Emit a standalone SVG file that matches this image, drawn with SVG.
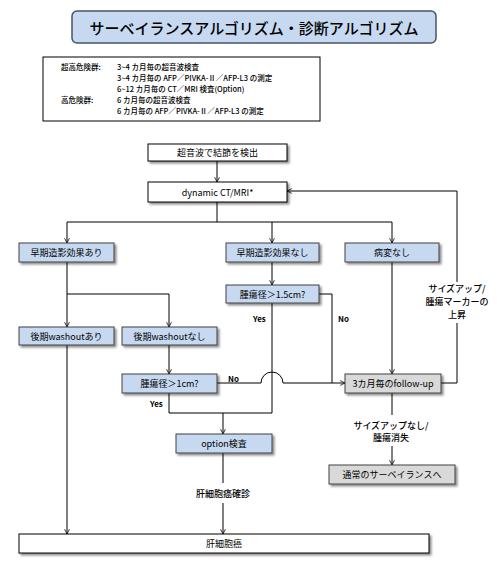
<svg xmlns="http://www.w3.org/2000/svg" width="497" height="567" viewBox="0 0 497 567">
<style>
text{font-family:"Noto Sans CJK JP","Liberation Sans",sans-serif;fill:#000}
.t{font-size:9px;text-anchor:middle;dominant-baseline:central}
.i{font-size:7.5px;dominant-baseline:central;font-weight:500}
.l{font-size:8px;font-weight:bold;dominant-baseline:central}
.lb{font-size:9px;font-weight:500;text-anchor:middle;dominant-baseline:central}
.b{fill:#c6d9f1;stroke:#404040;stroke-width:1}
.w{fill:#fff;stroke:#000;stroke-width:1}
.g{fill:#d9d9d9;stroke:#404040;stroke-width:1}
.c{fill:none;stroke:#000;stroke-width:1}
.a{fill:none;stroke:#000;stroke-width:1;marker-end:url(#ar)}
</style>
<defs>
<filter id="sh" x="-10%" y="-20%" width="130%" height="160%"><feDropShadow dx="2" dy="2" stdDeviation="0.8" flood-color="#000" flood-opacity="0.45"/></filter>
<marker id="ar" viewBox="0 0 10 10" refX="10" refY="5" markerWidth="6" markerHeight="6" orient="auto" markerUnits="userSpaceOnUse"><path d="M2,1 L10,5 L2,9" fill="none" stroke="#000" stroke-width="1.3"/></marker>
</defs>
<g id="title">
<rect x="72" y="11" width="364" height="32" rx="5" fill="#c6d9f1" stroke="#44546a" stroke-width="1.5"/>
<text x="254" y="27" style="font-size:15px;text-anchor:middle;dominant-baseline:central;font-weight:500">サーベイランスアルゴリズム・診断アルゴリズム</text>
</g>
<g id="info">
<rect x="43" y="57" width="277" height="64" fill="#fff" stroke="#000" stroke-width="1"/>
<text class="i" x="61" y="66.5">超高危険群:</text>
<text class="i" x="117" y="66.5">3~4 カ月毎の超音波検査</text>
<text class="i" x="117" y="77.5">3~4 カ月毎の AFP／PIVKA-Ⅱ／AFP-L3 の測定</text>
<text class="i" x="117" y="88.5">6~12 カ月毎の CT／MRI 検査(Option)</text>
<text class="i" x="61" y="99.5">高危険群:</text>
<text class="i" x="117" y="99.5">6 カ月毎の超音波検査</text>
<text class="i" x="117" y="110.5">6 カ月毎の AFP／PIVKA-Ⅱ／AFP-L3 の測定</text>
</g>
<g id="connectors">
<path class="a" d="M217,161 V182"/>
<path class="c" d="M217,202 V222 M67,222 H392"/>
<path class="a" d="M67,222 V243"/>
<path class="a" d="M272,222 V243"/>
<path class="a" d="M392,222 V243"/>
<path class="a" d="M272,262 V285"/>
<path class="c" d="M67,262 V294 H169"/>
<path class="a" d="M67,294 V327"/>
<path class="a" d="M169,294 V327"/>
<path class="a" d="M169,345 V374"/>
<path class="a" d="M67,345 V534"/>
<path class="c" d="M169,393 V413 H272 M272,303 V413"/>
<path class="a" d="M223,413 V434"/>
<path class="c" d="M319,294 H332 V383"/>
<path class="a" d="M217,383 H261 A11,11 0 0 1 283,383 H345"/>
<path class="a" d="M392,262 V374"/>
<path class="c" d="M441,383 H457 V323"/>
<path class="a" d="M457,282 V191 H287"/>
<path class="c" d="M392,393 V415"/>
<path class="a" d="M392,446 V465"/>
<path class="c" d="M223,453 V483"/>
<path class="a" d="M223,503 V534"/>
</g>
<g id="n-detect"><rect class="w" x="148" y="144" width="139" height="17" filter="url(#sh)"/><text class="t" x="217.5" y="152.5">超音波で結節を検出</text></g>
<g id="n-dynamic"><rect class="w" x="148" y="182" width="139" height="20" filter="url(#sh)"/><text class="t" x="217.5" y="192">dynamic CT/MRI*</text></g>
<g id="n-early-yes"><rect class="b" x="19" y="243" width="95" height="19" filter="url(#sh)"/><text class="t" x="66.5" y="252.5">早期造影効果あり</text></g>
<g id="n-early-no"><rect class="b" x="226" y="243" width="93" height="19" filter="url(#sh)"/><text class="t" x="272.5" y="252.5">早期造影効果なし</text></g>
<g id="n-nolesion"><rect class="b" x="345" y="243" width="94" height="19" filter="url(#sh)"/><text class="t" x="392" y="252.5">病変なし</text></g>
<g id="n-15cm"><rect class="b" x="226" y="285" width="93" height="18" filter="url(#sh)"/><text class="t" x="272.5" y="294">腫瘍径＞1.5cm?</text></g>
<g id="n-wash-yes"><rect class="b" x="19" y="327" width="95" height="18" filter="url(#sh)"/><text class="t" x="66.5" y="336">後期washoutあり</text></g>
<g id="n-wash-no"><rect class="b" x="122" y="327" width="95" height="18" filter="url(#sh)"/><text class="t" x="169.5" y="336">後期washoutなし</text></g>
<g id="n-1cm"><rect class="b" x="122" y="374" width="95" height="19" filter="url(#sh)"/><text class="t" x="169.5" y="383.5">腫瘍径＞1cm?</text></g>
<g id="n-followup"><rect class="g" x="345" y="374" width="96" height="19" filter="url(#sh)"/><text class="t" x="393" y="383.5">3カ月毎のfollow-up</text></g>
<g id="n-option"><rect class="b" x="176" y="434" width="96" height="19" filter="url(#sh)"/><text class="t" x="224" y="443.5">option検査</text></g>
<g id="n-surv"><rect class="g" x="329" y="465" width="126" height="19" filter="url(#sh)"/><text class="t" x="392" y="474.5">通常のサーベイランスへ</text></g>
<g id="n-hcc"><rect class="w" x="19" y="534" width="410" height="19" filter="url(#sh)"/><text class="t" x="224" y="543.5">肝細胞癌</text></g>
<g id="labels">
<text class="l" x="253" y="318">Yes</text>
<text class="l" x="338" y="318">No</text>
<text class="l" x="228" y="378">No</text>
<text class="l" x="150" y="403">Yes</text>
<text class="lb" x="457" y="288">サイズアップ/</text>
<text class="lb" x="457" y="301">腫瘍マーカーの</text>
<text class="lb" x="457" y="314">上昇</text>
<text class="lb" x="391" y="425">サイズアップなし/</text>
<text class="lb" x="391" y="437">腫瘍消失</text>
<text class="lb" x="223" y="493">肝細胞癌確診</text>
</g>
</svg>
